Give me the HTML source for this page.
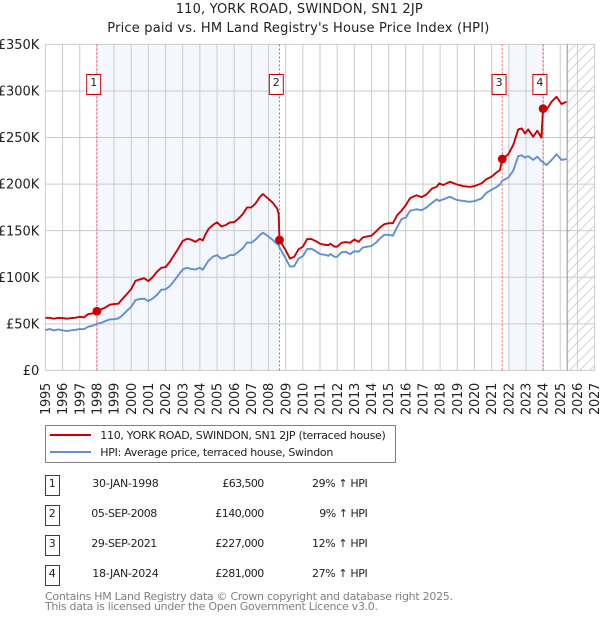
<!DOCTYPE html>
<html lang="en">
<head>
<meta charset="utf-8">
<title>110, York Road, Swindon price chart</title>
<style>
html,body{margin:0;padding:0;background:#fff;}
svg{display:block;font-family:"DejaVu Sans","Liberation Sans",sans-serif;}
</style>
</head>
<body>
<svg id="chart" width="600" height="620" viewBox="0 0 600 620" xmlns="http://www.w3.org/2000/svg">
  <defs>
    <pattern id="hatch" patternUnits="userSpaceOnUse" width="10" height="10">
      <path d="M-1 11L11 -1M-1 1L1 -1M9 11L11 9" stroke="#d4d4d4" stroke-width="1" fill="none"/>
    </pattern>
  </defs>
  <text x="175.7" y="13" textLength="247" lengthAdjust="spacing" font-size="13" fill="#222">110, YORK ROAD, SWINDON, SN1 2JP</text>
  <text x="107.3" y="32" textLength="382" lengthAdjust="spacing" font-size="13" fill="#222">Price paid vs. HM Land Registry's House Price Index (HPI)</text>
  <g id="plot"></g>

  <g>
    <rect x="45.5" y="425.5" width="350" height="37" fill="#fff" stroke="#808080" stroke-width="1"/>
    <line x1="50" y1="435" x2="91" y2="435" stroke="#cc0000" stroke-width="2"/>
    <text x="100.3" y="439" textLength="285.5" lengthAdjust="spacing" font-size="11" fill="#222">110, YORK ROAD, SWINDON, SN1 2JP (terraced house)</text>
    <line x1="50" y1="452" x2="91" y2="452" stroke="#5f8fd6" stroke-width="2"/>
    <text x="100.3" y="456" textLength="233" lengthAdjust="spacing" font-size="11" fill="#222">HPI: Average price, terraced house, Swindon</text>
  </g>

  <g font-size="11" fill="#222">
    <g>
      <rect x="45.5" y="475.5" width="14" height="20" fill="#fff" stroke="#cc0000"/>
      <text x="52.2" y="487" text-anchor="middle">1</text>
      <text x="92.3" y="487" textLength="66.4" lengthAdjust="spacing">30-JAN-1998</text>
      <text x="222.3" y="487" textLength="42" lengthAdjust="spacing">£63,500</text>
      <text x="312" y="487" textLength="55.7" lengthAdjust="spacing">29% ↑ HPI</text>
    </g>
    <g>
      <rect x="45.5" y="505.5" width="14" height="20" fill="#fff" stroke="#cc0000"/>
      <text x="52.2" y="517" text-anchor="middle">2</text>
      <text x="91.3" y="517" textLength="66" lengthAdjust="spacing">05-SEP-2008</text>
      <text x="215.3" y="517" textLength="49" lengthAdjust="spacing">£140,000</text>
      <text x="319.3" y="517" textLength="48.4" lengthAdjust="spacing">9% ↑ HPI</text>
    </g>
    <g>
      <rect x="45.5" y="535.5" width="14" height="20" fill="#fff" stroke="#cc0000"/>
      <text x="52.2" y="547" text-anchor="middle">3</text>
      <text x="91.3" y="547" textLength="66" lengthAdjust="spacing">29-SEP-2021</text>
      <text x="215.3" y="547" textLength="49" lengthAdjust="spacing">£227,000</text>
      <text x="312" y="547" textLength="55.7" lengthAdjust="spacing">12% ↑ HPI</text>
    </g>
    <g>
      <rect x="45.5" y="565.5" width="14" height="20" fill="#fff" stroke="#cc0000"/>
      <text x="52.2" y="577" text-anchor="middle">4</text>
      <text x="92.3" y="577" textLength="66.4" lengthAdjust="spacing">18-JAN-2024</text>
      <text x="215.3" y="577" textLength="49" lengthAdjust="spacing">£281,000</text>
      <text x="312" y="577" textLength="55.7" lengthAdjust="spacing">27% ↑ HPI</text>
    </g>
  </g>

  <text x="45" y="600" textLength="408" lengthAdjust="spacing" font-size="11" fill="#808080">Contains HM Land Registry data © Crown copyright and database right 2025.</text>
  <text x="45" y="610" textLength="333" lengthAdjust="spacing" font-size="11" fill="#808080">This data is licensed under the Open Government Licence v3.0.</text>
</svg>
<script>
const yearTicks = [1995,1996,1997,1998,1999,2000,2001,2002,2003,2004,2005,2006,2007,2008,2009,2010,2011,2012,2013,2014,2015,2016,2017,2018,2019,2020,2021,2022,2023,2024,2025,2026,2027];
const valueTicks = [0,50,100,150,200,250,300,350];
const valueTickLabels = ['£0','£50K','£100K','£150K','£200K','£250K','£300K','£350K'];
const dates = [1995,1995.25,1995.5,1995.75,1996,1996.25,1996.5,1996.75,1997,1997.25,1997.5,1997.75,1998,1998.25,1998.5,1998.75,1999,1999.25,1999.5,1999.75,2000,2000.25,2000.5,2000.75,2001,2001.25,2001.5,2001.75,2002,2002.25,2002.5,2002.75,2003,2003.25,2003.5,2003.75,2004,2004.17,2004.3,2004.5,2004.75,2005,2005.25,2005.5,2005.75,2006,2006.25,2006.5,2006.75,2007,2007.25,2007.5,2007.67,2007.9,2008.25,2008.5,2008.59,2008.64,2009,2009.25,2009.5,2009.75,2010,2010.25,2010.5,2010.75,2011,2011.25,2011.5,2011.6,2011.85,2012,2012.25,2012.5,2012.75,2013,2013.25,2013.5,2013.75,2014,2014.25,2014.5,2014.75,2015,2015.25,2015.5,2015.75,2016,2016.25,2016.63,2016.92,2017.21,2017.54,2017.79,2017.95,2018.18,2018.57,2018.96,2019.34,2019.73,2020.02,2020.41,2020.7,2021,2021.29,2021.48,2021.62,2021.97,2022.26,2022.55,2022.75,2022.94,2023.13,2023.42,2023.66,2023.9,2024,2024.2,2024.49,2024.78,2025.07,2025.36];
const priceValues = [56.5,56.5,55.5,56.5,56.2,55.5,56.2,56.5,57.6,56.9,60.5,61.2,63.5,65.5,67.6,70.5,71.2,71.6,77,82,87.3,96.2,97.7,99,95.9,100.2,105.9,110.2,110.9,116.7,123.8,131,139,141.3,140.3,138,141.3,139.5,145,151.7,156,159,154.6,156,158.9,159.2,163,167.8,175,175,179.3,186.4,189.3,185.7,180,173.9,168.5,140,129,120,122,130,132.8,141,141,138.8,136,134.9,134.5,136,132.8,132.8,137,137.8,137,140.6,138,142.8,143.8,144.6,148.9,153.5,157,158,158,166.8,171.4,177.5,185,188,186,189,195.4,197,200.8,199,202.5,199.7,197.9,197,198,200.8,205.4,208,212.6,215,227,232,242,258.7,259.8,254.4,258.7,250.9,257.3,250,281,280,288.4,293.8,286,288.4];
const hpiValues = [43.3,44.4,42.9,44,43,42.2,43,43.6,44.4,44.4,46.9,48,50,51,53,54.7,55,55.8,59.4,64,68.3,75.5,76.6,77,74.4,77.3,80.9,86.6,87,90.5,96.2,102.3,108.4,110.2,108.8,108.4,110.2,108,112,117.7,122,123.8,120,121,123.8,123.8,127.4,131,137.4,137,140.6,145.3,147.8,145,140,135.6,134.5,132,120.2,111.3,112,120,122.7,130.3,130.6,128,124.9,124.2,123,125,122,122,126.7,127.4,124.9,128,127.4,132,132.8,133.5,137,141.7,145.6,145.6,144.6,154,162.5,164,171.4,173,172,175,180,183.6,182,183.6,186.4,183,182,181,181.8,184.6,190.7,194,197,199.5,203.6,207,214.4,230,231,228.5,230,226,229.4,224.7,223.5,220.4,225.8,231.9,226,226.9];
const saleDates = [1998,2008.64,2021.62,2024];
const saleValues = [63.5,140,227,281];
const saleLabels = ['1','2','3','4'];
const shadedSpans = [[1998,2008.64],[2022,2024]];
const lastDataDate = 2025.4;

const NS = 'http://www.w3.org/2000/svg';
const plot = document.getElementById('plot');
const L = 45.4, R = 594.6, T = 44.4, B = 370.4;
function xAxis(year){ return L + (year - 1995) * (R - L) / 32; }
function yAxis(val){ return B - val * (B - T) / 350; }
function mk(tag, attrs, parent){
  const e = document.createElementNS(NS, tag);
  for (const k in attrs) e.setAttribute(k, attrs[k]);
  (parent || plot).appendChild(e);
  return e;
}

shadedSpans.forEach(function(s){
  const el = mk('rect', {x:xAxis(s[0]), y:T, width:xAxis(s[1])-xAxis(s[0]), height:B-T, fill:'#f4f7fe'});
  
  
});

const hatchEl = mk('rect', {x:xAxis(lastDataDate), y:T, width:R-xAxis(lastDataDate), height:B-T, fill:'url(#hatch)'});



yearTicks.forEach(function(y){
  const g = mk('line', {x1:xAxis(y), y1:T, x2:xAxis(y), y2:B, stroke:'#cbcbcb', 'stroke-width':1});
  
  
  const px = xAxis(y) + 4.6, py = 382.7;
  const t = mk('text', {x:px, y:py, 'font-size':13, fill:'#222', 'text-anchor':'end', textLength:32.3, lengthAdjust:'spacing', transform:'rotate(-90 '+px+' '+py+')'});
  t.textContent = String(y);
  
  
});

valueTicks.forEach(function(v, i){
  const g = mk('line', {x1:L, y1:yAxis(v), x2:R, y2:yAxis(v), stroke:'#cbcbcb', 'stroke-width':1});
  
  
  const t = mk('text', {x:39.3, y:yAxis(v)+4.6, 'font-size':13, fill:'#222', 'text-anchor':'end'});
  t.textContent = valueTickLabels[i];
  
  
});

const lastLine = mk('line', {x1:xAxis(lastDataDate), y1:T, x2:xAxis(lastDataDate), y2:B, stroke:'#8c8c8c', 'stroke-width':1});



saleDates.forEach(function(d){
  const el = mk('line', {x1:xAxis(d), y1:T, x2:xAxis(d), y2:B, stroke:'#f0566a', 'stroke-width':1, 'stroke-dasharray':'2 2'});
  
  
});

function pathFor(values){
  return values.map(function(v, i){
    return (i ? 'L' : 'M') + xAxis(dates[i]).toFixed(2) + ' ' + yAxis(v).toFixed(2);
  }).join('');
}
const hpiPath = mk('path', {d:pathFor(hpiValues), fill:'none', stroke:'#5f8fd6', 'stroke-width':1.9, 'stroke-linejoin':'round'});


const pricePath = mk('path', {d:pathFor(priceValues), fill:'none', stroke:'#cc0000', 'stroke-width':1.9, 'stroke-linejoin':'round'});



saleDates.forEach(function(d, i){
  const c = mk('circle', {cx:xAxis(d), cy:yAxis(saleValues[i]), r:4.4, fill:'#cc0000'});
  
  
  const bx = xAxis(d) - 10.2;
  const r = mk('rect', {x:bx, y:74.5, width:14, height:20, fill:'#fff', stroke:'#cc0000', 'stroke-width':1});
  
  
  const t = mk('text', {x:bx+7, y:86, 'font-size':11, fill:'#222', 'text-anchor':'middle'});
  t.textContent = saleLabels[i];
  
  
});
</script>
</body>
</html>
